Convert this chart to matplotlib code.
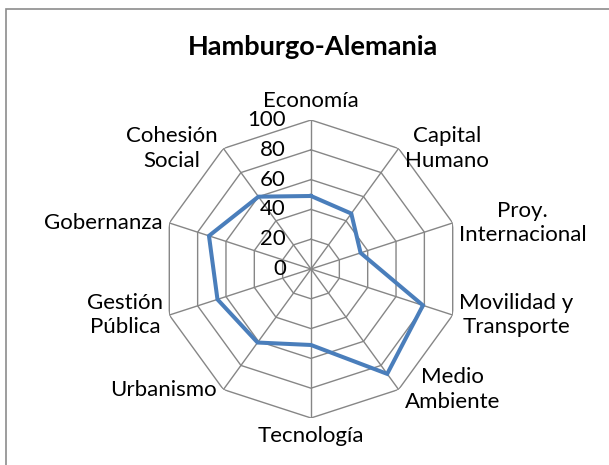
import numpy as np
import matplotlib.pyplot as plt
from matplotlib.patches import Rectangle

categories = ["Economía", "Capital\nHumano", "Proy.\nInternacional",
              "Movilidad y\nTransporte", "Medio\nAmbiente", "Tecnología",
              "Urbanismo", "Gestión\nPública", "Gobernanza", "Cohesión\nSocial"]
values = [49, 46, 35, 79, 87, 51, 61, 66, 72, 60]
rings = [0, 20, 40, 60, 80, 100]

plt.rcParams['font.family'] = ['Lato', 'DejaVu Sans']

W, H = 609, 465
fig = plt.figure(figsize=(W / 100, H / 100), dpi=100)

# chart area border (runs off the right and bottom edges)
fig.patches.append(Rectangle((5.5 / W, -0.1), 1.2, (H - 9) / H + 0.1,
                             transform=fig.transFigure, fill=False,
                             edgecolor="#8c8c8c", linewidth=1.2))

cx, cy, R = 311, 269, 149
ax = fig.add_axes([(cx - R) / W, (H - cy - R) / H, 2 * R / W, 2 * R / H],
                  projection="polar")
ax.set_theta_offset(np.pi / 2)
ax.set_theta_direction(-1)
ax.set_ylim(0, 100)
ax.axis("off")

n = len(categories)
theta = np.linspace(0, 2 * np.pi, n, endpoint=False)
tc = np.append(theta, theta[0])

grid_kw = dict(color="#868686", linewidth=1.0, zorder=1)
for r in rings[1:]:
    ax.plot(tc, np.full(n + 1, r), **grid_kw)
for t in theta:
    ax.plot([t, t], [0, 100], **grid_kw)

ax.plot(tc, np.append(values, values[0]), color="#4a7ebb",
        linewidth=2.9, solid_joinstyle="miter", zorder=3)

fs = 16
for r in rings:
    ax.annotate(str(r), xy=(0, r), xytext=(-18, 0), textcoords="offset points",
                ha="right", va="center", fontsize=fs, annotation_clip=False)

for t, lab in zip(theta, categories):
    s, c = np.sin(t), np.cos(t)
    if abs(s) < 0.1:
        ha = "center"
        va = "baseline" if c > 0 else "top"
        off = (0, 9.5 if c > 0 else -6)
    else:
        ha = "left" if s > 0 else "right"
        va = "center"
        off = (4.5 if s > 0 else -4.5, 0)
    ax.annotate(lab, xy=(t, 100), xytext=off, textcoords="offset points",
                ha=ha, va=va, multialignment="center", fontsize=fs,
                linespacing=1.26, annotation_clip=False)

fig.text(313 / W, 1 - 47 / H, "Hamburgo-Alemania", ha="center", va="center",
         fontsize=19.5, fontweight="bold")

fig.savefig("out.png", dpi=100, facecolor="white")
